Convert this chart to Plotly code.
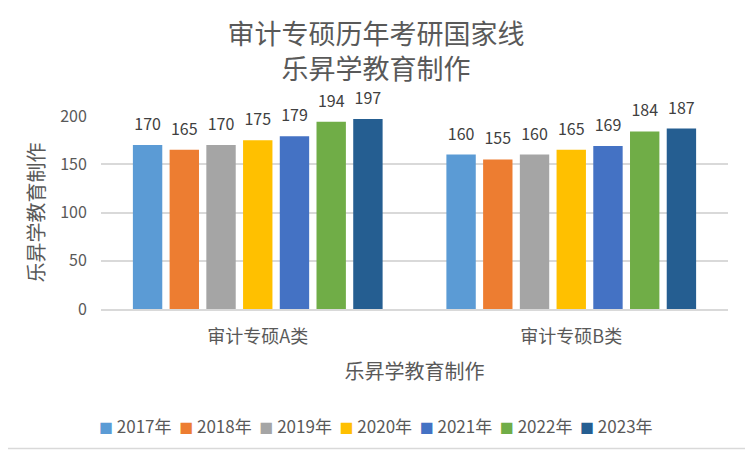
import plotly.graph_objects as go

categories = ["审计专硕A类", "审计专硕B类"]
years = ["2017年", "2018年", "2019年", "2020年", "2021年", "2022年", "2023年"]
values_a = [170, 165, 170, 175, 179, 194, 197]
values_b = [160, 155, 160, 165, 169, 184, 187]
colors = ["#5B9BD5", "#ED7D31", "#A5A5A5", "#FFC000", "#4472C4", "#70AD47", "#255E91"]
y_ticks = [0, 50, 100, 150, 200]

W, H = 753, 451
OFF = 8  # page body margin offset of the figure inside the window
ML, MR, MT, MB = 101 - OFF, 25 + OFF, 116 - OFF, 142 + OFF
FONT = "Noto Sans CJK SC, Noto Sans, sans-serif"
GRAY = "#595959"

fig = go.Figure()
for i, yr in enumerate(years):
    vals = [values_a[i], values_b[i]]
    fig.add_trace(go.Bar(
        name=yr, x=categories, y=vals, marker_color=colors[i],
        marker_line_width=0, offsetgroup=str(i), showlegend=False,
    ))
for i, yr in enumerate(years):
    vals = [values_a[i], values_b[i]]
    fig.add_trace(go.Scatter(
        x=categories, y=vals, mode="markers+text", text=[str(v) for v in vals],
        textposition="top center", textfont=dict(size=16, color="#404040", family=FONT),
        marker=dict(size=16, opacity=0), showlegend=False, hoverinfo="skip",
        offsetgroup=str(i), cliponaxis=False,
    ))

pw = W - ML - MR
ph = H - MT - MB

def px_x(x):  # window px -> paper x
    return (x - OFF - ML) / pw

def px_y(y):  # window px -> paper y
    return 1 - (y - OFF - MT) / ph

# chart border (light gray)
fig.add_shape(type="rect", xref="paper", yref="paper",
              x0=px_x(-30), x1=px_x(748), y0=px_y(448.5), y1=px_y(-30),
              line=dict(color="#D9D9D9", width=1.5), fillcolor="rgba(0,0,0,0)", layer="below")

# legend row
legend_text = "\u00a0\u00a0".join(
    f"<span style='color:{c};font-size:14px'>■</span>\u00a0{yr}" for c, yr in zip(colors, years)
)
fig.add_annotation(text=legend_text, xref="paper", yref="paper", x=px_x(376), y=px_y(425),
                   xanchor="center", yanchor="middle", showarrow=False,
                   font=dict(size=17, color=GRAY, family=FONT))

fig.update_layout(
    width=W, height=H,
    margin=dict(l=ML, r=MR, t=MT, b=MB, autoexpand=False),
    paper_bgcolor="white", plot_bgcolor="white",
    font=dict(family=FONT, color=GRAY),
    barmode="group", bargap=0.18, bargroupgap=0.2,
    scattermode="group", scattergap=0.18,
    title=dict(text="审计专硕历年考研国家线<br>乐昇学教育制作", x=(376 - OFF) / W, xref="container",
               xanchor="center", y=1 - (44 - OFF) / H, yref="container", yanchor="middle",
               font=dict(size=27, color=GRAY, family=FONT)),
    showlegend=False,
)
fig.update_xaxes(
    showgrid=False, showline=True, linecolor="#D9D9D9", linewidth=1.5,
    ticks="outside", ticklen=0, ticklabelstandoff=11,
    tickfont=dict(size=18, color=GRAY),
    title=dict(text="乐昇学教育制作", font=dict(size=20, color=GRAY), standoff=18),
)
fig.update_yaxes(
    range=[0, 200], tickvals=y_ticks, showgrid=True, gridcolor="#D9D9D9", gridwidth=1.5,
    zeroline=False, showline=False, ticks="outside", ticklen=0, ticklabelstandoff=10,
    tickfont=dict(size=16, color=GRAY),
    title=dict(text="乐昇学教育制作", font=dict(size=20, color=GRAY), standoff=10),
)

fig.write_html("out.html")
